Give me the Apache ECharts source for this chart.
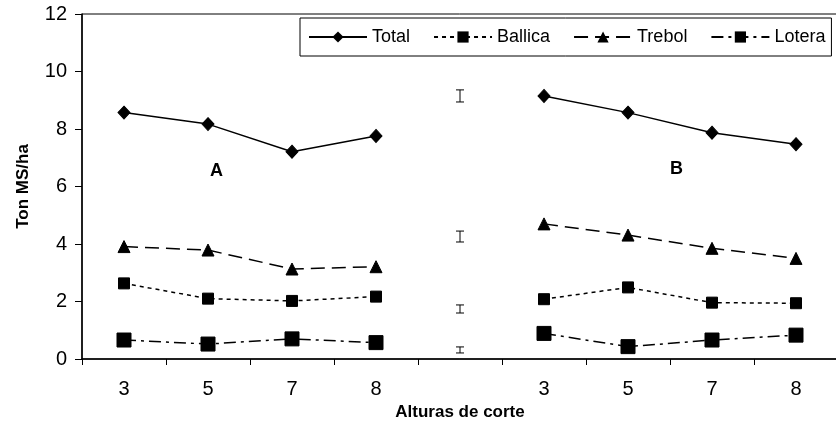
<!DOCTYPE html>
<html><head><meta charset="utf-8">
<script src="https://cdn.jsdelivr.net/npm/echarts@6/dist/echarts.min.js"></script>
<style>html,body{margin:0;padding:0;background:#fff}#c{width:836px;height:422px}</style>
</head><body><div id="c"></div>
<script>
const categories = ['3','5','7','8','','3','5','7','8'];
const yTicks = [0,2,4,6,8,10,12];
const totalA = [8.57, 8.17, 7.21, 7.76];
const totalB = [9.15, 8.57, 7.87, 7.47];
const ballicaA = [2.63, 2.10, 2.02, 2.17];
const ballicaB = [2.08, 2.49, 1.96, 1.94];
const trebolA = [3.91, 3.79, 3.13, 3.21];
const trebolB = [4.70, 4.31, 3.85, 3.50];
const loteraA = [0.66, 0.52, 0.70, 0.57];
const loteraB = [0.89, 0.43, 0.66, 0.83];
const errLow = [8.94, 4.07, 1.60, 0.21];
const errHigh = [9.36, 4.45, 1.88, 0.42];
const errCategory = 4;

const join = (a, b) => a.concat([null], b);
const font = 'Liberation Sans, Arial, sans-serif';

const chart = echarts.init(document.getElementById('c'));
function lineSeries(name, data, symbol, size, dash) {
  return {
    name, type: 'line', data, symbol, symbolSize: size,
    connectNulls: false,
    lineStyle: { color: '#000', width: 1.5, type: dash },
    itemStyle: { color: '#000', borderColor: '#000' },
    emphasis: { disabled: true }, animation: false, z: 3
  };
}
const option = {
  animation: false,
  grid: { left: 82, right: -2, top: 14, bottom: 63, show: true, borderColor: '#000', borderWidth: 1,
          containLabel: false, outerBoundsMode: 'none' },
  legend: {
    left: 300, top: 18, padding: [10, 6, 10, 8], itemGap: 23,
    itemWidth: 58, itemHeight: 14,
    borderColor: '#000', borderWidth: 1,
    textStyle: { fontFamily: font, fontSize: 18, color: '#000' },
    data: ['Total','Ballica','Trebol','Lotera']
  },
  xAxis: {
    type: 'category', data: categories, boundaryGap: true,
    name: 'Alturas de corte', nameLocation: 'middle', nameGap: 44,
    nameTextStyle: { fontFamily: font, fontSize: 17, fontWeight: 'bold', color: '#000' },
    axisLine: { lineStyle: { color: '#000', width: 1.5 } },
    axisTick: { show: true, length: 6, lineStyle: { color: '#000' } },
    axisLabel: { fontFamily: font, fontSize: 20, color: '#000', margin: 20 }
  },
  yAxis: {
    type: 'value', min: 0, max: 12, interval: 2,
    name: 'Ton MS/ha', nameLocation: 'middle', nameGap: 50, nameRotate: 90,
    nameTextStyle: { fontFamily: font, fontSize: 17, fontWeight: 'bold', color: '#000' },
    axisLine: { show: true, lineStyle: { color: '#000', width: 1.5 } },
    axisTick: { show: true, length: 7, lineStyle: { color: '#000' } },
    axisLabel: { fontFamily: font, fontSize: 20, color: '#000', margin: 15,
      formatter: v => yTicks.includes(v) ? String(v) : '' },
    splitLine: { show: false }
  },
  graphic: [
    { type: 'text', left: 210, top: 162, style: { text: 'A', font: 'bold 18px ' + font, fill: '#000' } },
    { type: 'text', left: 670, top: 160, style: { text: 'B', font: 'bold 18px ' + font, fill: '#000' } }
  ],
  series: [
    lineSeries('Total', join(totalA, totalB), 'diamond', [12, 13], 'solid'),
    lineSeries('Ballica', join(ballicaA, ballicaB), 'rect', 11, [4, 4]),
    lineSeries('Trebol', join(trebolA, trebolB), 'triangle', 12, [14, 7]),
    lineSeries('Lotera', join(loteraA, loteraB), 'rect', 14, [12, 5, 3, 5]),
    {
      type: 'custom', name: 'err', silent: true,
      data: errLow.map((lo, i) => [errCategory, lo, errHigh[i]]),
      encode: { x: 0, y: [1, 2] },
      renderItem: (params, api) => {
        const lo = api.coord([api.value(0), api.value(1)]);
        const hi = api.coord([api.value(0), api.value(2)]);
        const w = 4;
        const st = { stroke: '#000', lineWidth: 1 };
        return { type: 'group', children: [
          { type: 'line', shape: { x1: lo[0], y1: lo[1], x2: hi[0], y2: hi[1] }, style: st },
          { type: 'line', shape: { x1: lo[0]-w, y1: lo[1], x2: lo[0]+w, y2: lo[1] }, style: st },
          { type: 'line', shape: { x1: hi[0]-w, y1: hi[1], x2: hi[0]+w, y2: hi[1] }, style: st }
        ]};
      }
    }
  ]
};
chart.setOption(option);
</script></body></html>
